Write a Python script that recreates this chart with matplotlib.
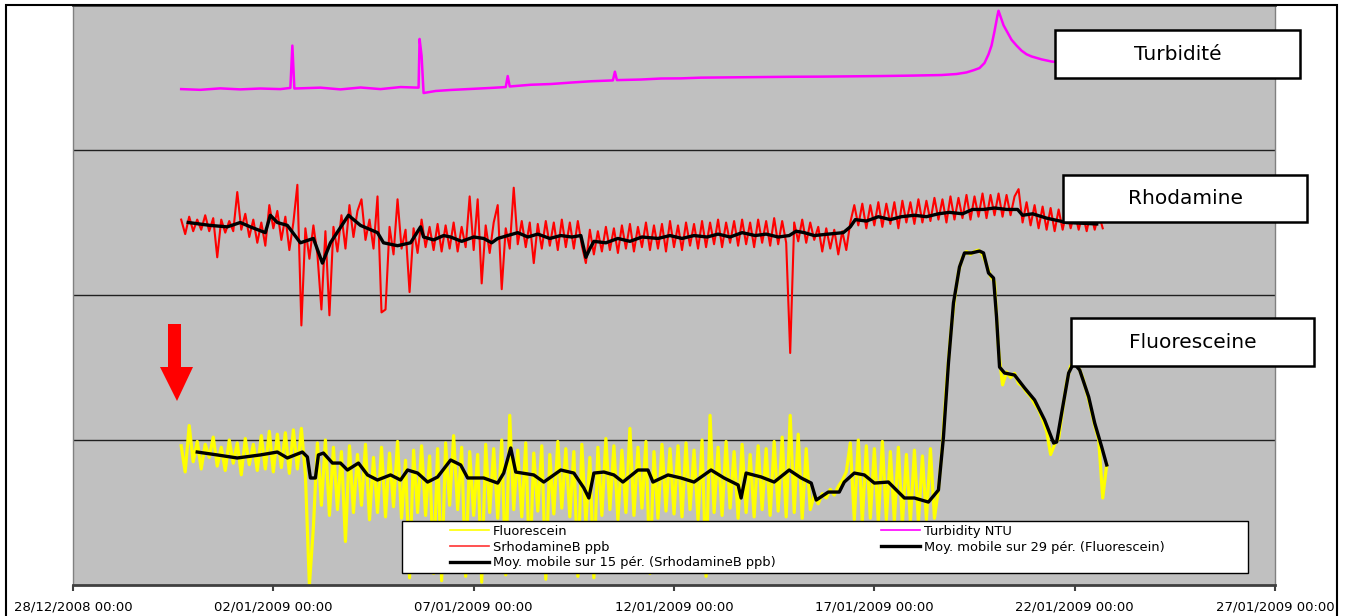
"""Traçage : fluorescéine, sulforhodamine B et turbidité (déc. 2008 - janv. 2009)"""

from datetime import datetime

import numpy as np
import matplotlib

matplotlib.use("Agg")
import matplotlib.pyplot as plt
import matplotlib.dates as mdates
from matplotlib.lines import Line2D
from matplotlib.patches import Polygon, Rectangle

# Axe du temps : jours depuis le 28/12/2008 00:00
T0 = datetime(2008, 12, 28)
DUREE = 30  # jusqu'au 27/01/2009

# Mesures brutes : une valeur toutes les 0.1 j à partir de J+2.7
DEBUT_MESURES = 2.7
PAS = 0.1

# valeurs exprimées sur l'échelle commune du graphe (0-400)
fluorescein = [
    96, 78, 110, 85, 99, 80, 97, 88, 102, 82, 95, 79, 100, 84, 98, 76,
    101, 83, 97, 79, 103, 80, 106, 78, 104, 81, 105, 77, 107, 80, 108, 76,
    0, 40, 98, 55, 100, 48, 95, 52, 92, 30, 96, 50, 90, 55, 97, 45, 88, 50,
    95, 47, 91, 54, 99, 46, 86, 5, 93, 50, 96, 48, 89, 8, 94, 3, 98, 55,
    103, 52, 95, 6, 92, 48, 90, 2, 97, 50, 94, 46, 100, 7, 117, 52, 93, 47,
    98, 9, 91, 51, 96, 4, 90, 49, 99, 53, 94, 47, 92, 6, 97, 42, 88, 5,
    95, 48, 101, 52, 96, 45, 93, 50, 108, 48, 95, 53, 99, 8, 92, 46, 97, 51,
    94, 49, 96, 47, 98, 52, 93, 45, 100, 6, 117, 50, 95, 48, 99, 53, 92, 46,
    97, 50, 90, 47, 96, 52, 94, 48, 99, 51, 102, 47, 117, 50, 104, 46, 94, 52,
    62, 56, 63, 60, 66, 62, 68, 72, 78,
    98, 45, 100, 44, 96, 46, 94, 43, 99, 45, 92, 44, 95, 42, 90, 44, 93, 43,
    89, 45, 94, 46,
    66, 97, 138, 172, 197, 216, 226, 230, 228, 230, 231, 228, 221, 213, 209,
    162, 138, 147, 143, 146, 139, 137, 133, 130, 125, 121, 114, 106, 90, 97,
    101, 121, 140, 151, 154, 150, 143, 133, 122, 110, 100, 60, 83,
]

srhodamine = [
    252, 242, 254, 244, 252, 245, 255, 244, 253, 226,
    252, 243, 251, 244, 271, 245, 256, 240, 252, 236,
    250, 234, 262, 246, 258, 238, 254, 231, 250, 276,
    179, 246, 225, 248, 228, 190, 244, 186, 247, 230,
    255, 232, 262, 240, 258, 266, 238, 252, 232, 268,
    188, 190, 247, 228, 266, 232, 245, 202, 246, 229,
    252, 233, 247, 231, 249, 230, 248, 232, 250, 230,
    247, 233, 268, 231, 266, 208, 248, 229, 250, 262,
    204, 246, 232, 274, 235, 251, 233, 250, 222, 249,
    232, 251, 234, 250, 231, 252, 233, 250, 232, 251,
    234, 222, 245, 228, 244, 230, 247, 231, 246, 229,
    248, 232, 249, 230, 247, 233, 250, 231, 248, 232,
    249, 230, 251, 233, 248, 231, 250, 234, 249, 232,
    251, 233, 250, 235, 252, 233, 250, 236, 251, 234,
    252, 235, 250, 233, 252, 236, 251, 234, 253, 235,
    251, 236, 160, 250, 237, 252, 236, 250, 238, 247,
    230, 246, 232, 245, 228, 244, 231, 250, 262, 248,
    263, 246, 262, 248, 264, 247, 263, 249, 264, 246,
    265, 250, 264, 249, 266, 250, 265, 251, 267, 252,
    266, 250, 268, 252, 267, 253, 269, 252, 268, 254,
    270, 253, 269, 255, 270, 254, 269, 255, 268, 273,
    250, 264, 248, 262, 246, 261, 245, 260, 244, 259,
    245, 258, 246, 257, 245, 256, 244, 257, 245, 256, 246,
]

turb_jours = [
    2.7, 3.175, 3.675, 4.175, 4.675, 5.175, 5.425, 5.475, 5.525, 6.175,
    6.675, 7.175, 7.675, 8.175, 8.625, 8.65, 8.7, 8.75, 9.05, 9.425,
    9.925, 10.425, 10.8, 10.85, 10.9, 11.425, 11.925, 12.425, 12.925, 13.475,
    13.525, 13.575, 14.175, 14.675, 15.175, 15.675, 16.425, 17.175, 17.925,
    18.675, 19.425, 20.175, 20.925, 21.675, 22.05, 22.3, 22.475, 22.625,
    22.75, 22.85, 22.925, 23.0, 23.075, 23.1, 23.15, 23.225, 23.325, 23.425,
    23.55, 23.675, 23.8, 23.925, 24.175, 24.425, 24.6,
]
turb_ntu = [
    342, 341.5, 342.5, 341.8, 342.4, 342, 342.8, 372, 342.4, 343,
    341.8, 343.1, 342, 343.4, 343, 376.6, 365, 339.3, 340.7, 341.4,
    342.1, 342.8, 343.4, 351, 343.8, 345, 345.5, 346.5, 347.4, 348,
    354, 348.2, 348.6, 349.3, 349.4, 349.9, 350.1, 350.3, 350.5,
    350.6, 350.8, 351, 351.3, 351.7, 352.4, 353.5, 355, 356.5,
    360, 366, 372, 382, 393, 396, 392, 386, 381, 376,
    372, 368.5, 366, 364.5, 362.5, 361, 360.5,
]

# Moyenne mobile sur 29 périodes (Fluorescein)
mm29_jours = [
    3.1, 3.6, 4.1, 4.675, 5.1, 5.35, 5.725, 5.85, 5.925, 6.05, 6.125, 6.25,
    6.475, 6.675, 6.85, 7.125, 7.35, 7.6, 7.925, 8.175, 8.35, 8.6, 8.85,
    9.1, 9.425, 9.675, 9.85, 10.25, 10.6, 10.75, 10.925, 11.05, 11.5, 11.75,
    12.175, 12.5, 12.75, 12.875, 13.0, 13.25, 13.5, 13.725, 14.1, 14.35,
    14.475, 14.85, 15.175, 15.5, 15.925, 16.25, 16.6, 16.675, 16.8, 17.175,
    17.5, 17.875, 18.175, 18.425, 18.55, 18.85, 19.125, 19.25, 19.5, 19.75,
    20.0, 20.35, 20.75, 21.0, 21.35, 21.6, 21.725, 21.85, 21.975, 22.125,
    22.25, 22.425, 22.625, 22.725, 22.85, 22.975, 23.05, 23.125, 23.25,
    23.5, 23.75, 24.0, 24.25, 24.475, 24.55, 24.675, 24.85, 24.975, 25.125,
    25.35, 25.5, 25.675, 25.8,
]
mm29_val = [
    91.7, 89.7, 87.6, 89.7, 91.7, 87.6, 91.7, 88.3, 73.8, 73.8, 89.7, 91.0,
    84.1, 84.1, 79.3, 84.1, 75.9, 72.4, 75.9, 72.4, 79.3, 77.2, 71.0,
    74.5, 86.2, 82.8, 73.8, 73.8, 70.3, 77.2, 94.5, 77.9, 75.9, 71.0,
    79.3, 77.2, 66.9, 60.0, 77.2, 77.9, 75.9, 71.0, 79.3, 79.3,
    71.0, 75.9, 73.8, 71.0, 79.3, 73.8, 69.0, 60.0, 77.2, 74.5,
    71.0, 79.3, 73.8, 70.3, 58.6, 64.1, 64.1, 71.0, 77.2, 75.9,
    70.3, 71.0, 60.0, 60.0, 57.2, 65.5, 102.1, 153.1, 194.5, 219.3,
    229.0, 229.0, 230.3, 229.0, 215.2, 211.7, 184.8, 150.3, 146.2,
    144.8, 135.9, 127.6, 113.8, 97.9, 98.6, 118.6, 146.2, 153.1, 148.3,
    129.7, 111.7, 95.2, 82.8,
]

# Moyenne mobile sur 15 périodes (SrhodamineB ppb)
mm15_jours = [
    2.875, 3.425, 3.85, 4.175, 4.425, 4.8, 4.925, 5.1, 5.35, 5.675, 6.0,
    6.225, 6.425, 6.875, 7.175, 7.6, 7.75, 8.1, 8.425, 8.675, 8.75, 9.0,
    9.25, 9.425, 9.7, 10.0, 10.25, 10.45, 10.6, 10.85, 11.1, 11.35, 11.6,
    11.9, 12.175, 12.45, 12.675, 12.8, 12.9, 13.0, 13.3, 13.6, 13.9, 14.2,
    14.6, 14.9, 15.2, 15.5, 15.825, 16.1, 16.4, 16.7, 17.025, 17.3, 17.6,
    17.875, 18.05, 18.25, 18.5, 18.85, 19.225, 19.4, 19.525, 19.8, 20.1,
    20.4, 20.675, 21.0, 21.3, 21.6, 21.875, 22.2, 22.45, 22.725, 23.0, 23.3,
    23.575, 23.7, 23.95, 24.3, 24.8, 25.55,
]
mm15_val = [
    250, 248, 247, 250, 247, 243, 255, 250, 248, 236, 239,
    222, 236, 255, 248, 243, 236, 234, 236, 247, 240, 238,
    241, 240, 237, 240, 239, 236, 239, 241, 243, 240, 242,
    239, 241, 240, 241, 226, 232, 237, 236, 239, 237, 240,
    239, 241, 239, 241, 240, 242, 240, 243, 241, 242, 240,
    241, 244, 243, 241, 242, 243, 247, 252, 251, 254,
    252, 254, 255, 254, 256, 257, 256, 259, 259, 260, 259,
    259, 255, 256, 253, 250, 249,
]

W, H = 1351, 616
fig = plt.figure(figsize=(W / 100, H / 100), dpi=100)
fig.patch.set_facecolor("white")


def fx(x):
    return x / W


def fy(y):
    return 1 - y / H


ax = fig.add_axes([fx(73), fy(585), (1275 - 73) / W, (585 - 5) / H])
ax.set_facecolor("#C0C0C0")

base = mdates.date2num(T0)
t_fluo = base + DEBUT_MESURES + PAS * np.arange(len(fluorescein))
t_rhod = base + DEBUT_MESURES + PAS * np.arange(len(srhodamine))

ax.plot(t_fluo, fluorescein, color="#FFFF00", lw=2.3, zorder=2)
ax.plot(base + np.array(turb_jours), turb_ntu, color="#FF00FF", lw=1.8, zorder=2)
ax.plot(t_rhod, srhodamine, color="#FF0000", lw=1.5, zorder=2)
ax.plot(base + np.array(mm29_jours), mm29_val, color="black", lw=2.4, zorder=3)
ax.plot(base + np.array(mm15_jours), mm15_val, color="black", lw=2.4, zorder=3)

ax.set_xlim(base, base + DUREE)
ax.set_ylim(0, 400)
ax.set_yticks([100, 200, 300])
ax.tick_params(axis="y", length=0, labelleft=False)
ax.grid(axis="y", color="#202020", lw=1)
ax.set_axisbelow(True)

ax.xaxis.set_major_locator(matplotlib.ticker.FixedLocator(base + np.arange(0, DUREE + 1, 5)))
ax.xaxis.set_major_formatter(mdates.DateFormatter("%d/%m/%Y %H:%M"))
ax.tick_params(axis="x", direction="out", length=4, width=1.5, color="#404040",
               labelsize=9.5, pad=7)

for side in ["left", "right"]:
    ax.spines[side].set_color("#808080")
    ax.spines[side].set_linewidth(1)
for side in ["top", "bottom"]:
    ax.spines[side].set_color("#404040")
    ax.spines[side].set_linewidth(2)

# légende
handles = [
    Line2D([], [], color="#FFFF00", lw=1.2),
    Line2D([], [], color="#FF3333", lw=1.2),
    Line2D([], [], color="black", lw=2.4),
    Line2D([], [], color="#FF00FF", lw=1.2),
    Line2D([], [], color="black", lw=2.4),
]
labels = [
    "Fluorescein",
    "SrhodamineB ppb",
    "Moy. mobile sur 15 pér. (SrhodamineB ppb)",
    "Turbidity NTU",
    "Moy. mobile sur 29 pér. (Fluorescein)",
]
ax.add_patch(Rectangle((fx(402), fy(573)), 846 / W, 52 / H, transform=fig.transFigure,
                       facecolor="white", edgecolor="black", lw=1, zorder=4.5,
                       clip_on=False))
ax.legend(handles, labels, ncol=2, mode="expand", loc="upper left",
          bbox_to_anchor=(fx(450), fy(573), (1165 - 450) / W, 48 / H),
          bbox_transform=fig.transFigure, frameon=False, fontsize=9.4,
          handlelength=3, handletextpad=0.3, labelspacing=0.2,
          borderpad=0, borderaxespad=0)

# flèche rouge : début de l'injection
fleche = [(168, 324), (181, 324), (181, 367), (193, 367), (177, 401),
          (160, 367), (168, 367)]
ax.add_patch(Polygon([(fx(x), fy(y)) for x, y in fleche], closed=True,
                     transform=fig.transFigure, facecolor="#FF0000",
                     edgecolor="none", zorder=4, clip_on=False))


def cartouche(x0, y0, x1, y1, texte):
    fig.add_artist(Rectangle((fx(x0), fy(y1)), (x1 - x0) / W, (y1 - y0) / H,
                             transform=fig.transFigure, facecolor="white",
                             edgecolor="black", lw=1.8, zorder=5))
    fig.text(fx((x0 + x1) / 2), fy((y0 + y1) / 2), texte, ha="center",
             va="center", fontsize=14.5, zorder=6)


cartouche(1055, 30, 1300, 78, "Turbidité")
cartouche(1063, 175, 1307, 222, "Rhodamine")
cartouche(1071, 318, 1314, 366, "Fluoresceine")

# cadre extérieur du graphique
fig.add_artist(Rectangle((fx(6), fy(630)), (1337 - 6) / W, 625 / H,
                         transform=fig.transFigure, facecolor="none",
                         edgecolor="black", lw=1.5, zorder=7))

fig.savefig("out.png", dpi=100)
plt.close(fig)
